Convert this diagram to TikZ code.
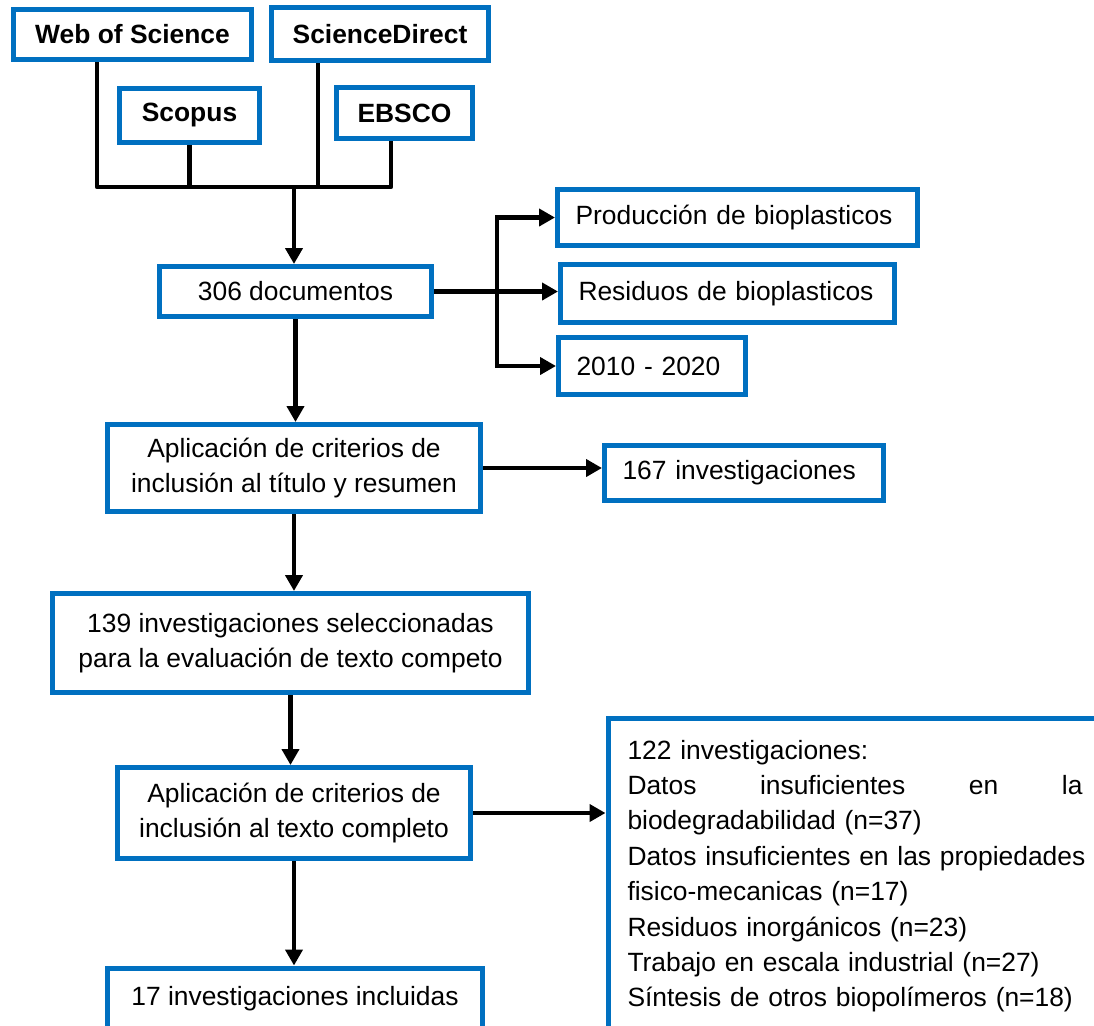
\documentclass[tikz,border=0pt]{standalone}
\usepackage{fontspec}
\setmainfont{Liberation Sans}
\usetikzlibrary{arrows.meta}
\definecolor{boxblue}{HTML}{0070C0}

\begin{document}
\begin{tikzpicture}[x=0.5pt, y=-0.5pt, >={Triangle[length=8pt,width=8.5pt]},
    every node/.style={font=\fontsize{13.2}{17.7}\selectfont},
    box/.style={draw=boxblue, line width=2.5pt, fill=white, inner sep=0pt, align=center},
    src/.style={box, font=\fontsize{13.2}{17.7}\selectfont\bfseries},
    tag/.style={box, align=left, inner xsep=9pt},
    arr/.style={->, line width=2.4pt},
    link/.style={-, line width=2.4pt, line join=round}]
        \useasboundingbox (0,0) rectangle (1094,1025);

        % sources
        \node[src, minimum width=119pt, minimum height=25pt] (WoS) at (132.5,34.5) {Web of Science};
        \node[src, minimum width=108.5pt, minimum height=26.5pt] (SD) at (380,34) {ScienceDirect};
        \node[src, minimum width=70pt, minimum height=27pt] (Scopus) at (189.5,115.5) {Scopus};
        \node[src, minimum width=68pt, minimum height=25.5pt] (EBSCO) at (404.5,113) {EBSCO};

        % main column
        \node[box, minimum width=136pt, minimum height=25pt] (docs) at (295.5,291.5) {306 documentos};
        \node[box, minimum width=186.5pt, minimum height=43.5pt] (apl1) at (294,468) {Aplicación de criterios de\\ inclusión al título y resumen};
        \node[box, minimum width=238pt, minimum height=49.5pt] (sel) at (290.5,643) {139 investigaciones seleccionadas\\ para la evaluación de texto competo};
        \node[box, minimum width=176.5pt, minimum height=45.5pt] (apl2) at (294,813) {Aplicación de criterios de\\ inclusión al texto completo};
        \node[box, anchor=north, minimum width=187.5pt, inner ysep=8.5pt, text height=10pt, text depth=40pt] (incl) at (295,965.5) {17 investigaciones incluidas};

        % side boxes
        \node[tag, text width=162pt, minimum height=28pt] (prod) at (737.5,217.5) {Producción de bioplasticos};
        \node[tag, text width=149pt, minimum height=29pt] (resid) at (727.5,293.5) {Residuos de bioplasticos};
        \node[tag, text width=75.5pt, minimum height=28.5pt] (years) at (652,366) {2010 - 2020};
        \node[tag, text width=121.5pt, minimum height=27.5pt] (inv) at (744,473) {167 investigaciones};
        \node[tag, anchor=north west, inner xsep=9.75pt, inner ysep=11pt, text width=227.5pt, text depth=150pt] (excl) at (605.5,715.5)
            {122 investigaciones:\\
             Datos\hfill insuficientes\hfill en\hfill la\\
             biodegradabilidad (n=37)\\
             \mbox{Datos insuficientes en las propiedades}\\
             fisico-mecanicas (n=17)\\
             Residuos inorgánicos (n=23)\\
             Trabajo en escala industrial (n=27)\\
             Síntesis de otros biopolímeros (n=18)};

        % source bus
        \coordinate (busL) at (97,187);
        \coordinate (busR) at (391,187);
        \coordinate (busM) at (294,187);
        \coordinate (sdDrop) at (318,187);
        \coordinate (fork) at (497,0);
        \draw[link] (WoS.south -| busL) -- (busL) -- (busR) -- (EBSCO.south -| busR);
        \draw[link] (Scopus.south) -- (Scopus.south |- busL);
        \draw[link] (SD.south -| sdDrop) -- (sdDrop);
        \draw[arr] (busM) -- (busM |- docs.north);

        % search filters
        \draw[arr] (docs.east) -- (docs.east -| resid.west);
        \draw[arr] (docs.east -| fork) |- (prod.west);
        \draw[arr] (docs.east -| fork) |- (years.west);

        % screening
        \draw[arr] (docs.south) -- (docs.south |- apl1.north);
        \draw[arr] (apl1.east) -- (apl1.east -| inv.west);
        \draw[arr] (apl1.south) -- (apl1.south |- sel.north);
        \draw[arr] (sel.south) -- (sel.south |- apl2.north);
        \draw[arr] (apl2.east) -- (apl2.east -| excl.west);
        \draw[arr] (apl2.south) -- (apl2.south |- incl.north);
\end{tikzpicture}
\end{document}
